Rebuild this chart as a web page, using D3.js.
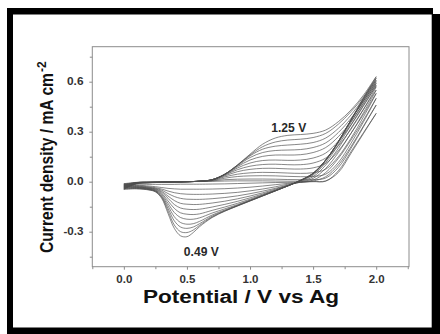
<!DOCTYPE html>
<html><head><meta charset="utf-8">
<script src="https://cdn.jsdelivr.net/npm/d3@7"></script>
<style>html,body{margin:0;padding:0;background:#fff;}svg{display:block;}</style>
</head><body>
<svg id="chart" width="440" height="334"></svg>
<script>
// ---- data ----
const potentials = [0,0.1,0.2,0.25,0.3,0.35,0.4,0.45,0.5,0.55,0.6,0.7,0.8,0.9,1.0,1.1,1.2,1.3,1.4,1.5,1.6,1.7,1.8,1.9,2.0];

// anodic (forward) branch current of each cycle at each potential, mA cm-2
const anodicScans = [
  [-0.012,-0.004,-0.002,-0.002,-0.002,-0.001,-0.001,-0.001,0.000,0.001,0.001, 0.002,0.004,0.005,0.005,0.005,0.004,0.003,0.003,0.002,0.003,0.065,0.180,0.295,0.410],
  [-0.016,-0.005,-0.003,-0.002,-0.002,-0.001,-0.001,-0.001,0.000,0.001,0.002, 0.005,0.012,0.015,0.016,0.016,0.015,0.013,0.012,0.012,0.022,0.085,0.200,0.330,0.460],
  [-0.019,-0.005,-0.003,-0.002,-0.002,-0.001,-0.001,-0.001,0.000,0.001,0.003, 0.007,0.021,0.031,0.035,0.036,0.035,0.032,0.030,0.032,0.045,0.115,0.230,0.360,0.500],
  [-0.022,-0.006,-0.003,-0.003,-0.002,-0.002,-0.001,-0.001,0.000,0.001,0.003, 0.009,0.029,0.045,0.053,0.056,0.055,0.052,0.050,0.054,0.075,0.150,0.260,0.390,0.530],
  [-0.025,-0.006,-0.004,-0.003,-0.002,-0.002,-0.001,-0.001,0.000,0.001,0.003, 0.010,0.035,0.060,0.074,0.080,0.080,0.077,0.076,0.083,0.110,0.185,0.290,0.415,0.550],
  [-0.028,-0.007,-0.004,-0.003,-0.003,-0.002,-0.001,-0.001,0.000,0.001,0.003, 0.011,0.040,0.072,0.093,0.103,0.105,0.102,0.102,0.112,0.142,0.215,0.315,0.435,0.570],
  [-0.031,-0.008,-0.004,-0.003,-0.003,-0.002,-0.001,-0.001,0.000,0.001,0.003, 0.012,0.042,0.082,0.112,0.127,0.130,0.128,0.130,0.142,0.172,0.243,0.340,0.455,0.580],
  [-0.034,-0.009,-0.005,-0.004,-0.003,-0.002,-0.002,-0.001,0.000,0.001,0.003, 0.012,0.044,0.090,0.130,0.152,0.160,0.160,0.162,0.175,0.205,0.270,0.360,0.470,0.590],
  [-0.037,-0.010,-0.005,-0.004,-0.003,-0.002,-0.002,-0.001,0.000,0.001,0.003, 0.012,0.045,0.095,0.145,0.175,0.187,0.190,0.193,0.205,0.233,0.295,0.380,0.485,0.600],
  [-0.040,-0.011,-0.006,-0.004,-0.003,-0.002,-0.002,-0.001,0.000,0.001,0.003, 0.012,0.045,0.098,0.155,0.195,0.213,0.220,0.225,0.235,0.262,0.320,0.400,0.500,0.610],
  [-0.043,-0.012,-0.006,-0.005,-0.004,-0.003,-0.002,-0.001,0.000,0.001,0.003, 0.012,0.045,0.100,0.160,0.210,0.238,0.250,0.255,0.265,0.290,0.345,0.420,0.510,0.620],
  [-0.046,-0.013,-0.007,-0.005,-0.004,-0.003,-0.002,-0.001,0.000,0.001,0.003, 0.012,0.045,0.100,0.165,0.225,0.262,0.278,0.283,0.290,0.310,0.360,0.430,0.520,0.630]
];

// cathodic (reverse) branch current of each cycle at each potential, mA cm-2
const cathodicScans = [
  [-0.012,-0.014,-0.016,-0.016,-0.016,-0.016,-0.016,-0.015,-0.015,-0.015,-0.015,-0.014,-0.013,-0.011,-0.009,-0.007,-0.005,-0.004,-0.002,0.000,0.005,0.055,0.170,0.290,0.410],
  [-0.016,-0.020,-0.026,-0.030,-0.035,-0.040,-0.043,-0.045,-0.045,-0.045,-0.045,-0.044,-0.042,-0.038,-0.033,-0.026,-0.018,-0.010,-0.004,0.004,0.030,0.100,0.210,0.335,0.460],
  [-0.019,-0.023,-0.031,-0.036,-0.044,-0.056,-0.066,-0.072,-0.075,-0.076,-0.076,-0.074,-0.070,-0.064,-0.055,-0.044,-0.031,-0.015,-0.004,0.010,0.055,0.140,0.250,0.370,0.500],
  [-0.022,-0.026,-0.034,-0.040,-0.051,-0.071,-0.089,-0.100,-0.105,-0.106,-0.106,-0.102,-0.095,-0.085,-0.072,-0.057,-0.040,-0.020,-0.002,0.020,0.080,0.175,0.290,0.405,0.530],
  [-0.025,-0.029,-0.037,-0.043,-0.058,-0.086,-0.113,-0.130,-0.135,-0.137,-0.136,-0.128,-0.117,-0.103,-0.086,-0.067,-0.045,-0.022,0.002,0.030,0.100,0.200,0.320,0.435,0.550],
  [-0.028,-0.031,-0.039,-0.046,-0.064,-0.099,-0.137,-0.158,-0.165,-0.167,-0.165,-0.152,-0.136,-0.118,-0.097,-0.074,-0.050,-0.024,0.005,0.040,0.115,0.220,0.340,0.460,0.570],
  [-0.031,-0.033,-0.041,-0.049,-0.071,-0.115,-0.160,-0.187,-0.195,-0.197,-0.193,-0.172,-0.152,-0.130,-0.105,-0.079,-0.052,-0.025,0.007,0.045,0.125,0.233,0.355,0.475,0.580],
  [-0.034,-0.035,-0.043,-0.052,-0.078,-0.130,-0.185,-0.215,-0.225,-0.225,-0.217,-0.188,-0.163,-0.138,-0.110,-0.082,-0.054,-0.025,0.008,0.050,0.130,0.240,0.370,0.485,0.590],
  [-0.037,-0.037,-0.045,-0.055,-0.085,-0.145,-0.210,-0.245,-0.255,-0.252,-0.238,-0.200,-0.170,-0.142,-0.113,-0.084,-0.055,-0.025,0.008,0.050,0.130,0.240,0.370,0.490,0.600],
  [-0.040,-0.039,-0.047,-0.057,-0.090,-0.160,-0.235,-0.272,-0.280,-0.272,-0.252,-0.207,-0.174,-0.144,-0.114,-0.085,-0.055,-0.025,0.008,0.050,0.130,0.240,0.370,0.495,0.610],
  [-0.043,-0.041,-0.048,-0.059,-0.095,-0.175,-0.260,-0.300,-0.305,-0.290,-0.262,-0.212,-0.176,-0.145,-0.115,-0.085,-0.055,-0.025,0.008,0.050,0.130,0.240,0.370,0.500,0.620],
  [-0.046,-0.043,-0.050,-0.061,-0.100,-0.190,-0.280,-0.325,-0.330,-0.305,-0.270,-0.215,-0.177,-0.146,-0.116,-0.086,-0.056,-0.025,0.008,0.050,0.130,0.240,0.370,0.505,0.630]
];

const xMajorTicks = [0.0, 0.5, 1.0, 1.5, 2.0];
const xMinorTicks = [-0.25, 0.25, 0.75, 1.25, 1.75, 2.25];
const yMajorTicks = [-0.3, 0.0, 0.3, 0.6];
const yMinorTicks = [-0.45, -0.15, 0.15, 0.45, 0.75];
const xTickLabels = ["0.0", "0.5", "1.0", "1.5", "2.0"];
const yTickLabels = ["-0.3", "0.0", "0.3", "0.6"];
const peakLabels = ["1.25 V", "0.49 V"];
const peakLabelV = [1.307, 0.614];
const peakLabelI = [0.30, -0.444];
const xTitle = "Potential / V vs Ag";
const yTitle = "Current density / mA cm";
const yTitleSup = "-2";

// ---- drawing ----
const svg = d3.select("#chart");
const x = d3.scaleLinear().domain([-0.25, 2.26]).range([92.3, 409]);
const y = d3.scaleLinear().domain([-0.51, 0.81]).range([266.7, 46.7]);
const FONT = "'Liberation Sans', Arial, Helvetica, sans-serif";

// outer black frame
const frame = svg.append("g").attr("fill", "#000");
frame.append("rect").attr("x", 7).attr("y", 8).attr("width", 426).attr("height", 6.5);
frame.append("rect").attr("x", 7).attr("y", 8).attr("width", 6).attr("height", 326);
frame.append("rect").attr("x", 431.7).attr("y", 14).attr("width", 8.3).attr("height", 320);
frame.append("rect").attr("x", 7).attr("y", 327.5).attr("width", 433).attr("height", 7);

// curves
const line = d3.line().x(d => x(d[0])).y(d => y(d[1])).curve(d3.curveCatmullRom.alpha(0.5));
const loops = anodicScans.map((an, k) => {
  const pts = potentials.map((v, i) => [v, an[i]]);
  const cat = cathodicScans[k];
  for (let i = potentials.length - 2; i >= 0; i--) pts.push([potentials[i], cat[i]]);
  return pts;
});
svg.append("g").selectAll("path").data(loops).join("path")
  .attr("d", line).attr("fill", "none")
  .attr("stroke", "#4d4d4d").attr("stroke-width", 0.75).attr("stroke-opacity", 0.9);

// plot box
svg.append("rect").attr("x", x.range()[0]).attr("y", y.range()[1])
  .attr("width", x.range()[1] - x.range()[0]).attr("height", y.range()[0] - y.range()[1])
  .attr("fill", "none").attr("stroke", "#8c8c8c").attr("stroke-width", 1);

// axes
const axX = svg.append("g").attr("transform", `translate(0,${y.range()[0]})`)
  .call(d3.axisBottom(x).tickValues(xMajorTicks).tickSize(3).tickPadding(6.2)
    .tickFormat((d, i) => xTickLabels[i]));
const axXm = svg.append("g").attr("transform", `translate(0,${y.range()[0]})`)
  .call(d3.axisBottom(x).tickValues(xMinorTicks).tickSize(2.5).tickFormat(""));
const axY = svg.append("g").attr("transform", `translate(${x.range()[0]},0)`)
  .call(d3.axisLeft(y).tickValues(yMajorTicks).tickSize(3).tickPadding(5.8)
    .tickFormat((d, i) => yTickLabels[i]));
const axYm = svg.append("g").attr("transform", `translate(${x.range()[0]},0)`)
  .call(d3.axisLeft(y).tickValues(yMinorTicks).tickSize(2.5).tickFormat(""));
[axX, axXm, axY, axYm].forEach(g => {
  g.select(".domain").remove();
  g.selectAll(".tick line").attr("stroke", "#8c8c8c").attr("stroke-width", 1);
  g.selectAll(".tick text").attr("font-family", FONT).attr("font-size", 10)
    .attr("font-weight", "bold").attr("fill", "#333");
});
axX.selectAll(".tick text").attr("textLength", 16).attr("lengthAdjust", "spacingAndGlyphs");
axY.selectAll(".tick text").attr("textLength", d => d < 0 ? 20 : 16.5).attr("lengthAdjust", "spacingAndGlyphs");

// peak annotations
svg.append("g").selectAll("text").data(peakLabels).join("text")
  .attr("x", (d, i) => x(peakLabelV[i])).attr("y", (d, i) => y(peakLabelI[i]))
  .attr("text-anchor", "middle").attr("font-family", FONT).attr("font-size", 12)
  .attr("font-weight", "bold").attr("fill", "#2a2a2a")
  .attr("textLength", 35).attr("lengthAdjust", "spacingAndGlyphs")
  .text(d => d);

// x title
svg.append("text").attr("x", 241).attr("y", 303.3).attr("text-anchor", "middle")
  .attr("font-family", FONT).attr("font-size", 18).attr("font-weight", "bold").attr("fill", "#111")
  .attr("textLength", 196).attr("lengthAdjust", "spacingAndGlyphs").text(xTitle);

// y title (reads bottom to top)
const ytg = svg.append("g").attr("transform", "translate(53,253) rotate(-90)")
  .attr("font-family", FONT).attr("font-weight", "bold").attr("fill", "#111");
ytg.append("text").attr("x", 0).attr("y", 0).attr("font-size", 17.5)
  .attr("textLength", 180).attr("lengthAdjust", "spacingAndGlyphs").text(yTitle);
ytg.append("text").attr("x", 181).attr("y", -7).attr("font-size", 12).text(yTitleSup);
</script>
</body></html>
